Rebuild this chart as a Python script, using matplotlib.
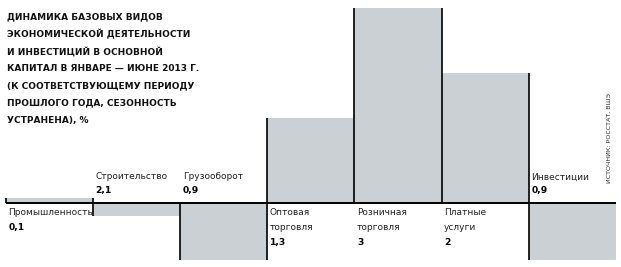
import matplotlib.pyplot as plt

# data
categories = ['Промышленность', 'Строительство', 'Грузооборот', 'Оптовая\nторговля',
              'Розничная\nторговля', 'Платные\nуслуги', 'Инвестиции']
values = [0.08, -0.2, -0.88, 1.3, 3.0, 2.0, -0.88]
value_labels = ['0,1', '2,1', '0,9', '1,3', '3', '2', '0,9']

title_lines = ['ДИНАМИКА БАЗОВЫХ ВИДОВ',
               'ЭКОНОМИЧЕСКОЙ ДЕЯТЕЛЬНОСТИ',
               'И ИНВЕСТИЦИЙ В ОСНОВНОЙ',
               'КАПИТАЛ В ЯНВАРЕ — ИЮНЕ 2013 Г.',
               '(К СООТВЕТСТВУЮЩЕМУ ПЕРИОДУ',
               'ПРОШЛОГО ГОДА, СЕЗОННОСТЬ',
               'УСТРАНЕНА), %']
source = 'ИСТОЧНИК: РОССТАТ, ВШЭ'

bar_color = '#cbd0d4'

fig = plt.figure(figsize=(6.21, 2.67), dpi=100)
ax = fig.add_axes([0, 0, 1, 1])
ax.set_xlim(-0.069, 7.06)
ax.set_ylim(-0.985, 3.123)
ax.axis('off')

n = len(values)
x = list(range(n))
ax.bar(x, values, width=1, align='edge', color=bar_color, linewidth=0, zorder=1)

# black step edges between bars
for i in range(n):
    prev = values[i - 1] if i > 0 else 0
    lo = min(0, prev, values[i])
    hi = max(0, prev, values[i])
    ax.vlines(i, lo, hi, color='black', linewidth=1.2, zorder=2)

ax.hlines(0, 0, n, color='black', linewidth=1.4, zorder=3)

# labels: positive bars get labels below baseline, negative above
px = 1 / 65.0  # one pixel in data units (vertical)
for i, (cat, v, vl) in enumerate(zip(categories, values, value_labels)):
    lines = cat.split('\n')
    xt = i + 0.03
    if v >= 0 or i == 0:
        y0 = -10 * px
        step = -15 * px
        for j, ln in enumerate(lines):
            ax.text(xt, y0 + j * step, ln, fontsize=6.5, color='#222222',
                    va='center', ha='left')
        ax.text(xt, y0 + len(lines) * step, vl, fontsize=6.6, fontweight='bold',
                va='center', ha='left')
    else:
        ax.text(xt, 26 * px, lines[0], fontsize=6.5, color='#222222',
                va='center', ha='left')
        ax.text(xt, 12 * px, vl, fontsize=6.6, fontweight='bold',
                va='center', ha='left')

# title block
for j, ln in enumerate(title_lines):
    fig.text(7 / 621, 1 - (17 + j * 17.2) / 267, ln, fontsize=6.5,
             fontweight='bold', va='center', ha='left', color='#111111')

fig.text(609 / 621, 1 - 138 / 267, source, fontsize=4.6, rotation=90,
         va='center', ha='center', color='#333333')

plt.savefig('out.png', dpi=100)
